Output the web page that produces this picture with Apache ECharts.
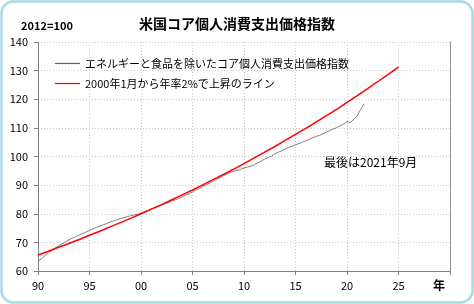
<!DOCTYPE html>
<html>
<head>
<meta charset="utf-8">
<script src="https://cdn.jsdelivr.net/npm/echarts@6/dist/echarts.min.js"></script>
<style>
html,body{margin:0;padding:0;background:#fff;}
#c{width:474px;height:304px;}
</style>
</head>
<body>
<div id="c"></div>
<script>
// ---- data ----
const titleText = '米国コア個人消費支出価格指数';
const unitText = '2012=100';
const seriesNames = ['エネルギーと食品を除いたコア個人消費支出価格指数', '2000年1月から年率2%で上昇のライン'];
const noteText = '最後は2021年9月';
const xAxisUnit = '年';
const xTickYears = [1990, 1995, 2000, 2005, 2010, 2015, 2020, 2025];

// core PCE index (2012=100), sampled every 4 months (Jan, May, Sep) from Jan 1990 to Sep 2021
const coreStartYear = 1990;
const coreStepMonths = 4;
const coreValues = [
  63.3, 64.3, 65.3,
  66.3, 67.2, 68.0,
  68.8, 69.5, 70.2,
  70.9, 71.5, 72.0,
  72.6, 73.1, 73.6,
  74.2, 74.7, 75.2,
  75.7, 76.1, 76.6,
  77.1, 77.5, 77.9,
  78.3, 78.6, 79.0,
  79.3, 79.6, 79.8,
  80.2, 80.7, 81.1,
  81.6, 82.1, 82.5,
  83.0, 83.5, 83.9,
  84.4, 84.9, 85.3,
  85.9, 86.5, 87.0,
  87.7, 88.3, 88.8,
  89.5, 90.1, 90.7,
  91.4, 92.0, 92.6,
  93.3, 93.9, 94.4,
  94.8, 95.2, 95.5,
  96.0, 96.3, 96.6,
  97.1, 97.8, 98.4,
  99.1, 99.6, 100.1,
  101.0, 101.5, 102.0,
  102.6, 103.1, 103.6,
  104.1, 104.5, 105.0,
  105.5, 106.0, 106.5,
  107.0, 107.4, 107.9,
  108.5, 109.1, 109.6,
  110.1, 110.7, 111.3,
  112.2, 111.9, 113.0,
  114.2, 116.5, 118.4
];

// 2% per year line (value at January of each year)
const lineYears = [1990,1991,1992,1993,1994,1995,1996,1997,1998,1999,
  2000,2001,2002,2003,2004,2005,2006,2007,2008,2009,
  2010,2011,2012,2013,2014,2015,2016,2017,2018,2019,
  2020,2021,2022,2023,2024,2025];
const lineValues = [65.6,66.9,68.3,69.6,71.0,72.5,73.9,75.4,76.9,78.4,
  80.0,81.6,83.2,84.9,86.6,88.3,90.1,91.9,93.7,95.6,
  97.5,99.5,101.5,103.5,105.6,107.7,109.8,112.0,114.3,116.5,
  118.9,121.3,123.7,126.2,128.7,131.2];

// ---- chart ----
const coreData = coreValues.map((v, i) => [coreStartYear + i * coreStepMonths / 12, v]);
const lineData = lineYears.map((y, i) => [y, lineValues[i]]);

const font = '"Noto Sans CJK JP", "Noto Sans", sans-serif';
const chart = echarts.init(document.getElementById('c'), null, {renderer: 'canvas'});
chart.setOption({
  animation: false,
  backgroundColor: '#ffffff',
  color: ['#808080', '#ff0000'],
  textStyle: {fontFamily: font},
  title: {
    text: titleText,
    left: 'center',
    top: 12,
    textStyle: {fontSize: 14, fontWeight: 'bold', color: '#000', fontFamily: font}
  },
  grid: {left: 38, right: 24, top: 42, bottom: 33, containLabel: false},
  legend: {
    show: true,
    orient: 'vertical',
    left: 50,
    top: 51,
    itemWidth: 25,
    itemHeight: 1.2,
    itemGap: 5,
    textStyle: {fontSize: 11, color: '#000', fontFamily: font, lineHeight: 15},
    data: [
      {name: seriesNames[0], icon: 'rect', itemStyle: {color: '#606060'}},
      {name: seriesNames[1], icon: 'rect', itemStyle: {color: '#ff0000'}}
    ]
  },
  xAxis: {
    type: 'value',
    min: 1990,
    max: 2030,
    interval: 5,
    axisLine: {show: true, lineStyle: {color: '#808080', width: 1}},
    axisTick: {show: true, length: 4, lineStyle: {color: '#808080'}},
    axisLabel: {
      margin: 9,
      fontSize: 11,
      color: '#000',
      fontFamily: font,
      formatter: v => xTickYears.indexOf(v) >= 0 ? String(v % 100).padStart(2, '0') : ''
    },
    splitLine: {show: true, lineStyle: {color: '#c8c8c8', type: [1, 2], width: 1}}
  },
  yAxis: [{
    type: 'value',
    min: 60,
    max: 140,
    interval: 10,
    axisLine: {show: true, lineStyle: {color: '#808080', width: 1}},
    axisTick: {show: true, length: 4, lineStyle: {color: '#808080'}},
    axisLabel: {margin: 10, fontSize: 11, color: '#000', fontFamily: font},
    splitLine: {show: true, lineStyle: {color: '#c8c8c8', type: [1, 2], width: 1}}
  }, {
    type: 'value',
    position: 'right',
    min: 60,
    max: 140,
    interval: 10,
    axisLine: {show: true, lineStyle: {color: '#909090', width: 1}},
    axisTick: {show: false},
    axisLabel: {show: false},
    splitLine: {show: false}
  }],
  series: [
    {
      name: seriesNames[0],
      type: 'line',
      data: coreData,
      symbol: 'none',
      color: '#808080',
      lineStyle: {color: '#808080', width: 1},
      z: 3
    },
    {
      name: seriesNames[1],
      type: 'line',
      data: lineData,
      symbol: 'none',
      color: '#ff0000',
      lineStyle: {color: '#ff0000', width: 1.5},
      z: 4
    }
  ],
  graphic: [
    {
      type: 'rect',
      shape: {x: 1.5, y: 1.5, width: 471, height: 301, r: 12},
      style: {fill: 'none', stroke: '#a9d9e6', lineWidth: 2.5},
      silent: true, z: 100
    },
    {
      type: 'text', left: 21, top: 20,
      style: {text: unitText, font: 'bold 11px ' + font, fill: '#000'}
    },
    {
      type: 'text', left: 324, top: 156,
      style: {text: noteText, font: '12px ' + font, fill: '#000'}
    },
    {
      type: 'text', left: 433, top: 279,
      style: {text: xAxisUnit, font: 'bold 12px ' + font, fill: '#000'}
    }
  ]
});
</script>
</body>
</html>
